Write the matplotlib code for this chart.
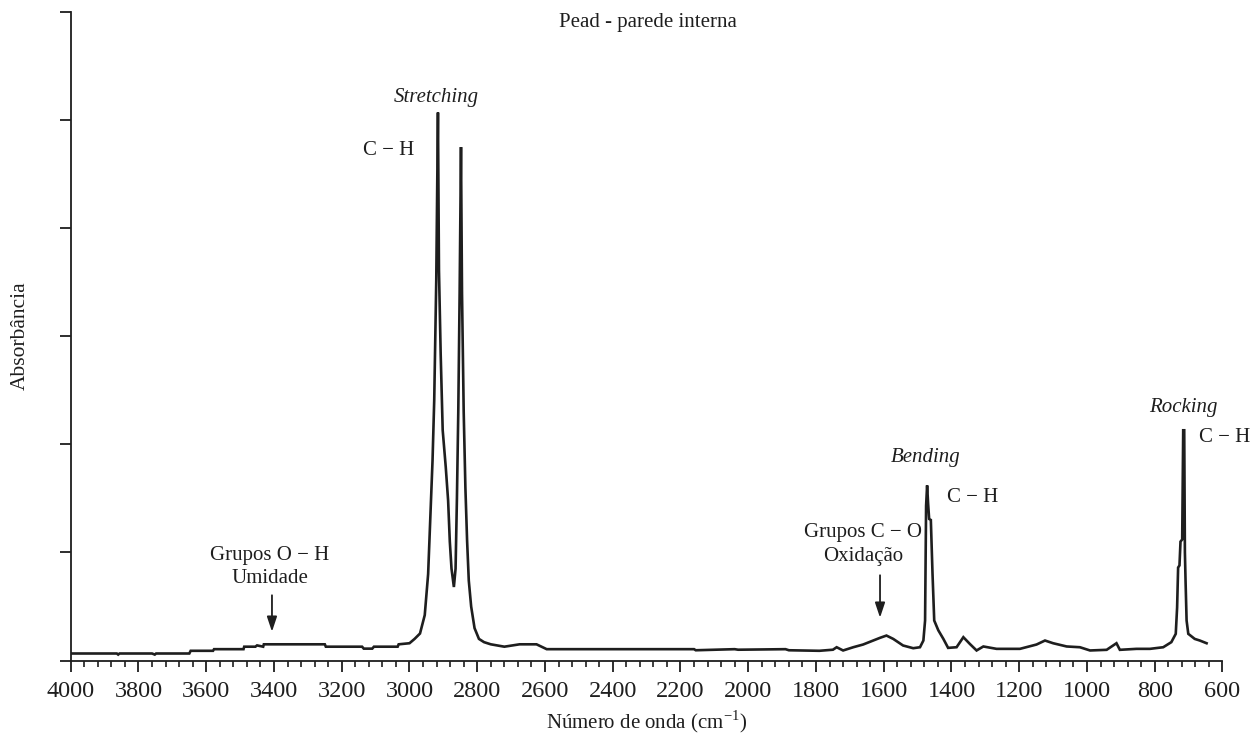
import matplotlib
matplotlib.use("Agg")
import matplotlib.pyplot as plt

# ---- data (wavenumber cm^-1, absorbance a.u.) ----
wavenumber = [4000, 3900, 3864, 3860, 3856, 3760, 3752, 3748, 3650, 3646, 3580, 3577,
              3490, 3488, 3455, 3450, 3432, 3430, 3250, 3247, 3140, 3135, 3110, 3105,
              3035, 3032, 3000, 2985, 2969, 2955, 2945, 2938, 2932, 2927, 2921, 2916,
              2913, 2908, 2902, 2893, 2886, 2881, 2876, 2869, 2864, 2860, 2856, 2852,
              2848, 2845, 2840, 2835, 2830, 2825, 2818, 2808, 2795, 2780, 2760, 2720,
              2675, 2625, 2595, 2160, 2155, 2040, 2030, 1890, 1880, 1790, 1750, 1739,
              1720, 1690, 1661, 1631, 1611, 1592, 1572, 1543, 1513, 1493, 1483, 1478,
              1475, 1472, 1469, 1466, 1461, 1456, 1451, 1439, 1424, 1410, 1385, 1365,
              1346, 1326, 1306, 1267, 1198, 1149, 1124, 1100, 1060, 1021, 991, 942,
              913, 903, 854, 814, 775, 751, 738, 734, 731, 727, 724, 719, 716, 713,
              711, 709, 706, 701, 682, 667, 647]
absorbance = [0.065, 0.065, 0.065, 0.055, 0.065, 0.065, 0.055, 0.065, 0.065, 0.09, 0.09, 0.105,
              0.105, 0.128, 0.128, 0.14, 0.128, 0.15, 0.15, 0.128, 0.128, 0.11, 0.11, 0.128,
              0.128, 0.15, 0.16, 0.2, 0.25, 0.42, 0.8, 1.36, 1.85, 2.41, 3.52, 5.07,
              3.61, 2.84, 2.13, 1.79, 1.48, 1.1, 0.85, 0.68, 0.85, 1.5, 2.3, 3.4,
              4.75, 3.4, 2.3, 1.6, 1.11, 0.74, 0.5, 0.3, 0.2, 0.17, 0.15, 0.128,
              0.15, 0.15, 0.105, 0.105, 0.095, 0.105, 0.1, 0.105, 0.095, 0.09, 0.1, 0.123,
              0.093, 0.123, 0.148, 0.185, 0.21, 0.231, 0.2, 0.139, 0.114, 0.123, 0.185, 0.37,
              1.43, 1.62, 1.45, 1.31, 1.3, 0.8, 0.37, 0.28, 0.2, 0.117, 0.123, 0.216,
              0.154, 0.093, 0.13, 0.108, 0.108, 0.148, 0.185, 0.16, 0.13, 0.123, 0.093, 0.099,
              0.16, 0.099, 0.108, 0.108, 0.123, 0.17, 0.247, 0.49, 0.86, 0.88, 1.1, 1.12, 2.13, 2.13,
              1.0, 0.73, 0.37, 0.247, 0.2, 0.185, 0.16]

x_ticks = [4000, 3800, 3600, 3400, 3200, 3000, 2800, 2600, 2400, 2200, 2000,
           1800, 1600, 1400, 1200, 1000, 800, 600]
title = "Pead - parede interna"
x_label = "Número de onda (cm$^{-1}$)"
y_label = "Absorbância"

plt.rcParams['font.family'] = ['Liberation Serif', 'DejaVu Serif']
plt.rcParams['mathtext.fontset'] = 'custom'
plt.rcParams['mathtext.rm'] = 'Liberation Serif'

fig = plt.figure(figsize=(12.5, 7.34), dpi=100)
ax = fig.add_axes([0.0566, 0.1001, 0.9214, 0.8836])
ink = '#1e1e1e'
ax.plot(wavenumber, absorbance, color=ink, lw=1.9, solid_joinstyle='miter')

ax.set_xlim(4000, 600)
ax.set_ylim(0, 6)
ax.set_xticks(x_ticks)
ax.set_xticks(list(range(600, 4001, 40)), minor=True)
ax.set_yticks(range(0, 7))
ax.set_yticklabels([])
ax.tick_params(axis='x', which='major', length=8, width=1.3, labelsize=17.5, pad=7, colors=ink)
ax.tick_params(axis='x', which='minor', length=4.5, width=1.2, colors=ink)
ax.tick_params(axis='y', which='major', length=8, width=1.3, colors=ink)
for s in ['top', 'right']:
    ax.spines[s].set_visible(False)
for s in ['left', 'bottom']:
    ax.spines[s].set_linewidth(1.3)
    ax.spines[s].set_color(ink)

ax.set_xlabel(x_label, fontsize=15, labelpad=4, color=ink)
fig.text(0.016, 0.542, y_label, rotation=90, fontsize=15.5, ha='center', va='center', color=ink)
fig.text(0.5184, 0.970, title, fontsize=15, ha='center', va='center', color=ink)

def t(wn, v, s, italic=False, ha='center'):
    ax.text(wn, v, s, fontsize=15, ha=ha, va='center', color=ink,
            style='italic' if italic else 'normal')

t(2922, (660 - 97) / 108, 'Stretching', True)
t(3063, (660 - 150) / 108, 'C − H')
t(3412, (660 - 555) / 108, 'Grupos O − H')
t(3412, (660 - 578) / 108, 'Umidade')
t(1661, (660 - 532) / 108, 'Grupos C − O')
t(1661, (660 - 556) / 108, 'Oxidação')
t(1475, (660 - 457) / 108, 'Bending', True)
t(1337, (660 - 497) / 108, 'C − H')
t(717, (660 - 407) / 108, 'Rocking', True)
t(668, (660 - 437) / 108, 'C − H', ha='left')

arrow = dict(arrowstyle='-|>,head_length=0.9,head_width=0.3', color=ink, lw=1.3)
ax.annotate('', xy=(3406, (660 - 634) / 108), xytext=(3406, (660 - 592) / 108), arrowprops=arrow)
ax.annotate('', xy=(1611, (660 - 620) / 108), xytext=(1611, (660 - 572) / 108), arrowprops=arrow)

fig.savefig('out.png', dpi=100)
